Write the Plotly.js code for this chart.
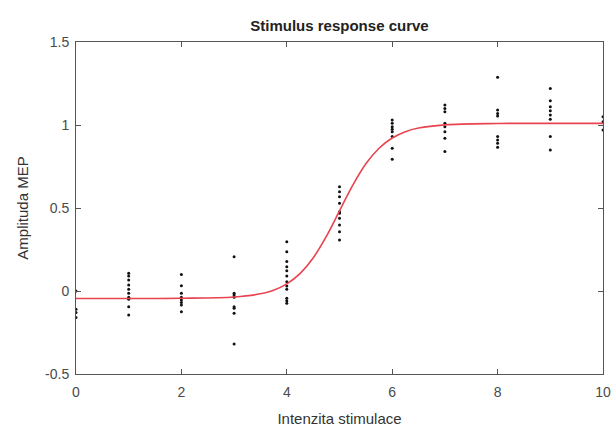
<!DOCTYPE html>
<html>
<head>
<meta charset="utf-8">
<script src="https://cdn.plot.ly/plotly-3.0.1.min.js"></script>
<style>html,body{margin:0;padding:0;background:#fff;}#chart{width:614px;height:431px;}</style>
</head>
<body>
<div id="chart"></div>
<script>
// Measured responses (intensity, amplitude)
const ptX = [
  0,0,0,0,
  1,1,1,1,1,1,1,1,1,1,
  2,2,2,2,2,2,2,2,
  3,3,3,3,3,3,3,3,
  4,4,4,4,4,4,4,4,4,4,4,4,
  5,5,5,5,5,5,5,5,5,5,
  6,6,6,6,6,6,6,6,
  7,7,7,7,7,7,7,7,
  8,8,8,8,8,8,8,8,
  9,9,9,9,9,9,9,9,
  10,10,10
];
const ptY = [
  0.0,-0.11,-0.13,-0.16,
  0.107,0.09,0.066,0.036,0.01,-0.014,-0.038,-0.05,-0.095,-0.145,
  0.10,0.032,-0.014,-0.038,-0.054,-0.07,-0.084,-0.125,
  0.207,-0.014,-0.024,-0.038,-0.095,-0.104,-0.134,-0.32,
  0.297,0.237,0.177,0.146,0.122,0.09,0.056,0.03,0.01,-0.044,-0.058,-0.074,
  0.628,0.598,0.568,0.528,0.478,0.468,0.438,0.398,0.357,0.307,
  1.03,1.01,0.99,0.974,0.96,0.93,0.86,0.793,
  1.12,1.10,1.08,1.01,0.99,0.96,0.92,0.84,
  1.287,1.09,1.07,1.054,0.93,0.91,0.89,0.866,
  1.22,1.146,1.11,1.086,1.06,1.034,0.93,0.849,
  1.05,1.02,0.97
];
// Fitted curve
const curveX = [0,1,2,3,3.5,3.75,4,4.25,4.5,4.75,5,5.25,5.5,5.75,6,6.25,6.5,7,8,9,10];
const curveY = [-0.045,-0.045,-0.044,-0.036,-0.017,0.005,0.043,0.105,0.199,0.329,0.4825,0.636,0.766,0.86,0.922,0.96,0.982,1.001,1.009,1.01,1.01];

const xTicks = [0,2,4,6,8,10];
const xTickText = ['0','2','4','6','8','10'];
const yTicks = [-0.5,0,0.5,1,1.5];
const yTickText = ['-0.5','0','0.5','1','1.5'];

const font = 'Liberation Sans, Arial, Helvetica, sans-serif';
const traces = [
  {x: ptX, y: ptY, type: 'scatter', mode: 'markers',
   marker: {color: '#111', size: 3}, hoverinfo: 'none'},
  {x: curveX, y: curveY, type: 'scatter', mode: 'lines',
   line: {color: '#e8434f', width: 1.6, shape: 'spline', smoothing: 1}, hoverinfo: 'none'}
];
const axisCommon = {
  showgrid: false, zeroline: false, showline: true, linecolor: '#555', linewidth: 1,
  mirror: 'ticks', ticks: 'inside', ticklen: 5, tickcolor: '#555',
  tickfont: {family: font, size: 14, color: '#4a4a4a'}
};
const layout = {
  width: 614, height: 431,
  margin: {l: 76, r: 11, t: 42, b: 57},
  paper_bgcolor: '#fff', plot_bgcolor: '#fff',
  showlegend: false,
  title: {text: '<b>Stimulus response curve</b>', font: {family: font, size: 15, color: '#222'},
          x: 0.5529, xanchor: 'center', y: 0.94, yanchor: 'middle'},
  xaxis: Object.assign({}, axisCommon, {range: [0,10], tickvals: xTicks, ticktext: xTickText,
          ticklabelstandoff: 5,
          title: {text: 'Intenzita stimulace', font: {family: font, size: 15, color: '#333'}, standoff: 14}}),
  yaxis: Object.assign({}, axisCommon, {range: [-0.5,1.5], tickvals: yTicks, ticktext: yTickText,
          ticklabelstandoff: 3,
          title: {text: 'Amplituda MEP', font: {family: font, size: 15, color: '#333'}, standoff: 12}})
};
Plotly.newPlot('chart', traces, layout, {staticPlot: true, displayModeBar: false});
</script>
</body>
</html>
